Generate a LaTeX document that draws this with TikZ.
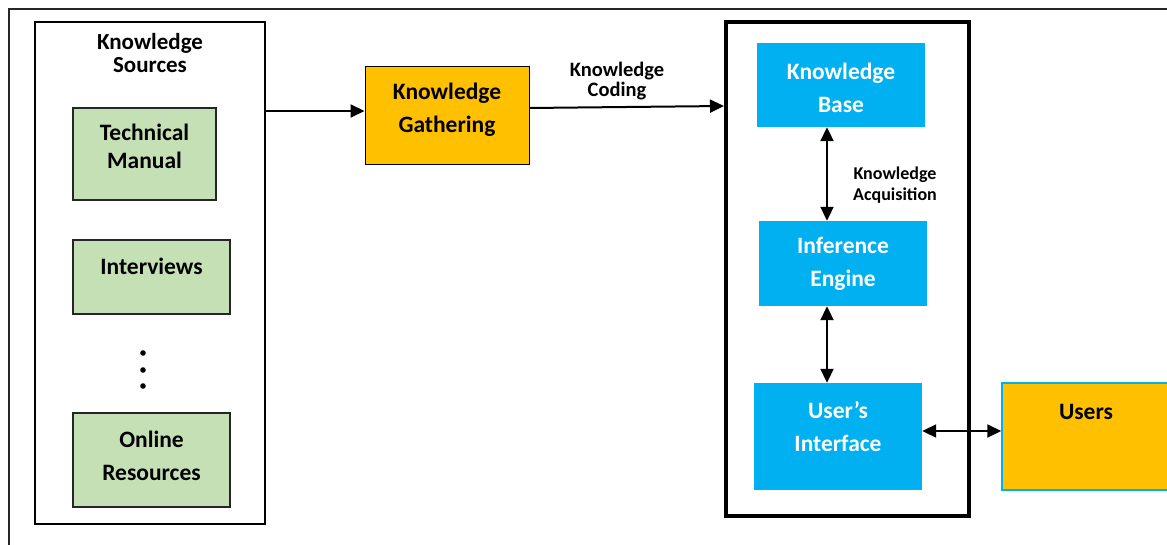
\documentclass[tikz,border=0pt]{standalone}
\usepackage{fontspec}
\setmainfont{Carlito}
\usetikzlibrary{arrows.meta}
\definecolor{srcgreen}{HTML}{C5E0B4}
\definecolor{amber}{HTML}{FFC000}
\definecolor{sky}{HTML}{00B0F0}
\begin{document}
\begin{tikzpicture}[x=1pt,y=-1pt,
  box/.style={rectangle, inner sep=0pt},
  boxtext/.style={font=\fontsize{23.5}{33}\selectfont\bfseries, align=center},
  srcbox/.style={box, draw=black!85, line width=1.5pt, fill=srcgreen},
  link/.style={line width=2pt, -{Triangle[length=14pt,width=13pt]}},
  duplex/.style={line width=2pt, {Triangle[length=14pt,width=13pt]}-{Triangle[length=14pt,width=13pt]}},
  note/.style={font=\bfseries, align=center}
]
\useasboundingbox (0,0) rectangle (1167,545);
\fill[white] (0,0) rectangle (1167,545);

% page frame
\draw[line width=1.6pt, black!85] (9,545) -- (9,9) -- (1167,9);

% knowledge sources
\node[box, draw=black, line width=1.6pt, minimum width=230pt, minimum height=502pt] (src) at (150,273) {};
\node[note, font=\fontsize{23}{22.5}\selectfont\bfseries] (srctitle) at (150,53) {Knowledge\\Sources};

\node[srcbox, minimum width=143pt, minimum height=92pt,
  label={[boxtext, font=\fontsize{23.5}{28}\selectfont\bfseries, yshift=8pt]center:Technical\\Manual}] (tm) at (144.5,154) {};
\node[srcbox, minimum width=157pt, minimum height=74pt,
  label={[boxtext, yshift=11pt]center:Interviews}] (iv) at (151.5,277) {};
\node[srcbox, minimum width=157pt, minimum height=94pt,
  label={[boxtext, yshift=4pt]center:Online\\Resources}] (or) at (151.5,460) {};

\foreach \y [count=\i] in {353,370,386}
  \fill (143,\y) circle (2.8pt) coordinate (dot\i);

% knowledge gathering
\node[box, draw=black, line width=1pt, fill=amber, minimum width=164pt, minimum height=98pt,
  label={[boxtext, yshift=6.5pt]center:Knowledge\\Gathering}] (kg) at (447,116) {};

% expert system
\node[box, draw=black, line width=4pt, minimum width=243pt, minimum height=494pt] (es) at (847.5,269) {};
\node[box, fill=sky, minimum width=168pt, minimum height=84pt,
  label={[boxtext, text=white, yshift=-2.5pt]center:Knowledge\\Base}] (kb) at (841,85) {};
\node[box, fill=sky, minimum width=168pt, minimum height=85pt,
  label={[boxtext, text=white, yshift=-0.5pt]center:Inference\\Engine}] (ie) at (843,263.5) {};
\node[box, fill=sky, minimum width=168pt, minimum height=107pt,
  label={[boxtext, text=white, yshift=10pt]center:User’s\\Interface}] (ui) at (838,436.5) {};

% users
\node[box, draw=sky, line width=1.5pt, fill=amber, minimum width=178pt, minimum height=107pt,
  label={[boxtext, xshift=-5pt, yshift=24.5pt]center:Users}] (us) at (1091,436.5) {};

% connector rails
\coordinate (railA) at (0,111);
\coordinate (railB1) at (0,108);
\coordinate (railB2) at (0,106);
\coordinate (axis) at (827,0);
\coordinate (row) at (0,431);

\draw[link] (src.east |- railA) -- (kg.west |- railA);
\draw[link] (kg.east |- railB1) -- (es.west |- railB2);
\draw[duplex] (kb.south -| axis) -- (ie.north -| axis);
\draw[duplex] (ie.south -| axis) -- (ui.north -| axis);
\draw[duplex] (ui.east |- row) -- (us.west |- row);

% connector notes
\node[note, font=\fontsize{20.5}{20}\selectfont\bfseries] (coding) at (617,81) {Knowledge\\Coding};
\node[note, font=\fontsize{18}{21}\selectfont\bfseries] (acq) at (895,185) {Knowledge\\Acquisition};
\end{tikzpicture}
\end{document}
